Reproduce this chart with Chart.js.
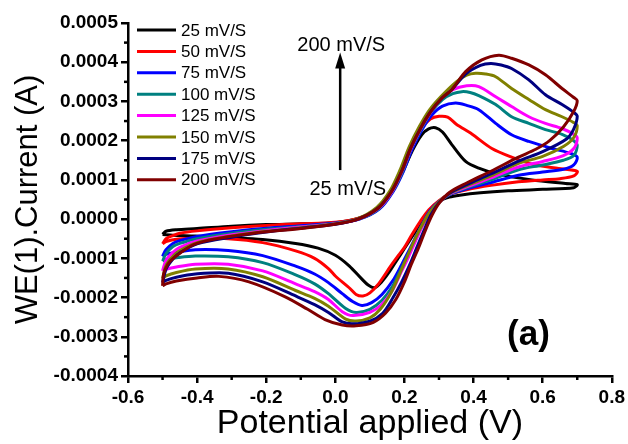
<!DOCTYPE html>
<html>
<head>
<meta charset="utf-8">
<title>Cyclic voltammograms</title>
<script src="https://cdn.jsdelivr.net/npm/chart.js@4.4.1/dist/chart.umd.min.js"></script>
<style>
    html, body { margin: 0; padding: 0; background: #fff; }
    #cv { display: block; }
</style>
</head>
<body>
<canvas id="cv" width="628" height="444"></canvas>
<script>
// Scan rates shown in the legend
const scanRates = ['25 mV/S', '50 mV/S', '75 mV/S', '100 mV/S', '125 mV/S', '150 mV/S', '175 mV/S', '200 mV/S'];
const lineColors = ['#000000', '#ff0000', '#0000ff', '#008080', '#ff00ff', '#808000', '#000080', '#800000'];

// Axis ticks
const xTicks = [-0.6, -0.4, -0.2, 0.0, 0.2, 0.4, 0.6, 0.8];
const yTicks = [-0.0004, -0.0003, -0.0002, -0.0001, 0.0000, 0.0001, 0.0002, 0.0003, 0.0004, 0.0005];

// [potential (V), current (A)]: forward sweep -0.5 -> 0.7 V, then back
const cv25 = [
    [-0.5, -0.39e-4], [-0.49, -0.31e-4], [-0.46, -0.27e-4], [-0.4, -0.24e-4], [-0.3, -0.18e-4], [-0.2, -0.14e-4],
    [-0.1, -0.12e-4], [0, -0.09e-4], [0.07, 0.03e-4], [0.127, 0.28e-4], [0.166, 0.72e-4], [0.196, 1.22e-4],
    [0.223, 1.75e-4], [0.25, 2.15e-4], [0.27, 2.3e-4], [0.29, 2.33e-4], [0.31, 2.22e-4], [0.337, 1.9e-4],
    [0.377, 1.47e-4], [0.415, 1.3e-4], [0.473, 1.14e-4], [0.569, 1.0e-4], [0.666, 0.91e-4], [0.7, 0.88e-4],
    [0.69, 0.8e-4], [0.6, 0.76e-4], [0.5, 0.72e-4], [0.42, 0.67e-4], [0.36, 0.61e-4], [0.33, 0.56e-4],
    [0.3, 0.45e-4], [0.272, 0.22e-4], [0.248, -0.08e-4], [0.222, -0.45e-4], [0.2, -0.75e-4], [0.18, -1.02e-4],
    [0.155, -1.36e-4], [0.132, -1.62e-4], [0.113, -1.75e-4], [0.095, -1.68e-4], [0.077, -1.53e-4], [0.04, -1.19e-4],
    [0.0, -0.92e-4], [-0.05, -0.74e-4], [-0.115, -0.62e-4], [-0.21, -0.52e-4], [-0.31, -0.47e-4], [-0.405, -0.43e-4],
    [-0.47, -0.41e-4], [-0.5, -0.39e-4]
];
const cv50 = [
    [-0.5, -0.63e-4], [-0.49, -0.5e-4], [-0.47, -0.42e-4], [-0.45, -0.36e-4], [-0.4, -0.3e-4], [-0.3, -0.22e-4],
    [-0.2, -0.16e-4], [-0.1, -0.12e-4], [0, -0.08e-4], [0.07, 0.03e-4], [0.126, 0.28e-4], [0.164, 0.71e-4],
    [0.194, 1.22e-4], [0.221, 1.8e-4], [0.249, 2.3e-4], [0.275, 2.55e-4], [0.3, 2.62e-4], [0.325, 2.6e-4],
    [0.35, 2.42e-4], [0.395, 2.17e-4], [0.453, 1.8e-4], [0.51, 1.58e-4], [0.57, 1.4e-4], [0.646, 1.29e-4],
    [0.7, 1.22e-4],
    [0.69, 1.1e-4], [0.65, 1.03e-4], [0.6, 1.0e-4], [0.53, 0.95e-4], [0.45, 0.86e-4], [0.38, 0.75e-4],
    [0.33, 0.63e-4], [0.3, 0.47e-4], [0.27, 0.23e-4], [0.245, -0.07e-4], [0.22, -0.42e-4], [0.2, -0.72e-4],
    [0.183, -0.92e-4], [0.16, -1.2e-4], [0.125, -1.65e-4], [0.1, -1.88e-4], [0.08, -1.96e-4], [0.06, -1.92e-4],
    [0.04, -1.75e-4], [0.0, -1.45e-4], [-0.02, -1.26e-4], [-0.06, -1.0e-4], [-0.115, -0.81e-4], [-0.21, -0.6e-4],
    [-0.31, -0.5e-4], [-0.405, -0.49e-4], [-0.455, -0.51e-4], [-0.49, -0.57e-4], [-0.5, -0.63e-4]
];
const cv75 = [
    [-0.5, -0.95e-4], [-0.49, -0.78e-4], [-0.47, -0.62e-4], [-0.45, -0.55e-4], [-0.4, -0.44e-4], [-0.3, -0.32e-4],
    [-0.2, -0.23e-4], [-0.1, -0.17e-4], [0, -0.1e-4], [0.07, 0.0], [0.128, 0.26e-4], [0.167, 0.7e-4],
    [0.196, 1.2e-4], [0.222, 1.78e-4], [0.252, 2.3e-4], [0.28, 2.66e-4], [0.31, 2.88e-4], [0.348, 2.96e-4],
    [0.38, 2.9e-4], [0.415, 2.79e-4], [0.464, 2.44e-4], [0.51, 2.15e-4], [0.56, 1.98e-4], [0.627, 1.8e-4],
    [0.68, 1.68e-4], [0.7, 1.58e-4],
    [0.69, 1.38e-4], [0.66, 1.27e-4], [0.6, 1.2e-4], [0.53, 1.12e-4], [0.45, 0.93e-4], [0.38, 0.77e-4],
    [0.33, 0.62e-4], [0.3, 0.45e-4], [0.273, 0.2e-4], [0.252, -0.12e-4], [0.232, -0.47e-4], [0.212, -0.82e-4],
    [0.192, -1.16e-4], [0.167, -1.56e-4], [0.135, -1.92e-4], [0.105, -2.13e-4], [0.077, -2.2e-4], [0.05, -2.1e-4],
    [0.02, -1.9e-4], [-0.02, -1.62e-4], [-0.06, -1.4e-4], [-0.115, -1.2e-4], [-0.21, -0.93e-4], [-0.31, -0.8e-4],
    [-0.405, -0.78e-4], [-0.455, -0.84e-4], [-0.49, -0.9e-4], [-0.5, -0.95e-4]
];
const cv100 = [
    [-0.5, -1.07e-4], [-0.49, -0.88e-4], [-0.47, -0.7e-4], [-0.45, -0.62e-4], [-0.4, -0.5e-4], [-0.3, -0.36e-4],
    [-0.2, -0.26e-4], [-0.1, -0.19e-4], [0, -0.11e-4], [0.068, 0.0], [0.127, 0.27e-4], [0.165, 0.7e-4],
    [0.194, 1.2e-4], [0.22, 1.8e-4], [0.25, 2.32e-4], [0.278, 2.74e-4], [0.31, 3.05e-4], [0.34, 3.2e-4],
    [0.366, 3.25e-4], [0.39, 3.23e-4], [0.415, 3.15e-4], [0.464, 2.92e-4], [0.51, 2.61e-4], [0.56, 2.44e-4],
    [0.608, 2.28e-4], [0.656, 2.16e-4], [0.69, 2.0e-4], [0.7, 1.88e-4],
    [0.69, 1.62e-4], [0.66, 1.5e-4], [0.6, 1.38e-4], [0.53, 1.26e-4], [0.45, 1.0e-4], [0.38, 0.8e-4],
    [0.33, 0.63e-4], [0.3, 0.44e-4], [0.273, 0.18e-4], [0.252, -0.15e-4], [0.232, -0.52e-4], [0.212, -0.9e-4],
    [0.19, -1.28e-4], [0.165, -1.72e-4], [0.135, -2.07e-4], [0.1, -2.3e-4], [0.06, -2.38e-4], [0.03, -2.28e-4],
    [-0.02, -1.9e-4], [-0.06, -1.65e-4], [-0.115, -1.42e-4], [-0.21, -1.11e-4], [-0.31, -0.96e-4], [-0.405, -0.94e-4],
    [-0.455, -0.98e-4], [-0.49, -1.03e-4], [-0.5, -1.07e-4]
];
const cv125 = [
    [-0.5, -1.32e-4], [-0.49, -1.05e-4], [-0.47, -0.85e-4], [-0.45, -0.72e-4], [-0.4, -0.56e-4], [-0.3, -0.4e-4],
    [-0.2, -0.29e-4], [-0.1, -0.2e-4], [0, -0.12e-4], [0.067, 0.0], [0.126, 0.28e-4], [0.164, 0.7e-4],
    [0.193, 1.22e-4], [0.219, 1.8e-4], [0.248, 2.32e-4], [0.277, 2.74e-4], [0.308, 3.08e-4], [0.34, 3.3e-4],
    [0.38, 3.4e-4], [0.415, 3.38e-4], [0.464, 3.12e-4], [0.51, 2.87e-4], [0.56, 2.61e-4], [0.608, 2.44e-4],
    [0.656, 2.31e-4], [0.69, 2.16e-4], [0.7, 2.07e-4],
    [0.69, 1.8e-4], [0.66, 1.62e-4], [0.6, 1.47e-4], [0.53, 1.33e-4], [0.45, 1.05e-4], [0.38, 0.82e-4],
    [0.33, 0.64e-4], [0.3, 0.43e-4], [0.273, 0.16e-4], [0.252, -0.18e-4], [0.232, -0.56e-4], [0.212, -0.96e-4],
    [0.19, -1.36e-4], [0.165, -1.82e-4], [0.135, -2.17e-4], [0.1, -2.38e-4], [0.05, -2.46e-4], [0.02, -2.36e-4],
    [-0.02, -2.05e-4], [-0.06, -1.85e-4], [-0.115, -1.65e-4], [-0.21, -1.32e-4], [-0.31, -1.15e-4], [-0.405, -1.15e-4],
    [-0.46, -1.22e-4], [-0.49, -1.28e-4], [-0.5, -1.32e-4]
];
const cv150 = [
    [-0.5, -1.52e-4], [-0.49, -1.18e-4], [-0.47, -0.95e-4], [-0.45, -0.8e-4], [-0.4, -0.6e-4], [-0.3, -0.43e-4],
    [-0.2, -0.31e-4], [-0.1, -0.22e-4], [0, -0.12e-4], [0.062, 0.0], [0.12, 0.3e-4], [0.158, 0.72e-4],
    [0.187, 1.25e-4], [0.214, 1.85e-4], [0.243, 2.36e-4], [0.272, 2.78e-4], [0.305, 3.12e-4], [0.35, 3.5e-4],
    [0.38, 3.67e-4], [0.406, 3.72e-4], [0.435, 3.7e-4], [0.464, 3.63e-4], [0.51, 3.33e-4], [0.56, 3.05e-4],
    [0.608, 2.79e-4], [0.656, 2.61e-4], [0.69, 2.46e-4], [0.7, 2.38e-4],
    [0.69, 2.08e-4], [0.66, 1.85e-4], [0.6, 1.6e-4], [0.53, 1.42e-4], [0.45, 1.1e-4], [0.38, 0.85e-4],
    [0.33, 0.65e-4], [0.3, 0.44e-4], [0.272, 0.16e-4], [0.25, -0.17e-4], [0.228, -0.56e-4], [0.207, -0.97e-4],
    [0.186, -1.4e-4], [0.16, -1.9e-4], [0.13, -2.3e-4], [0.1, -2.52e-4], [0.06, -2.6e-4], [0.03, -2.55e-4],
    [-0.02, -2.22e-4], [-0.06, -2.02e-4], [-0.115, -1.82e-4], [-0.21, -1.47e-4], [-0.31, -1.27e-4], [-0.405, -1.27e-4],
    [-0.46, -1.36e-4], [-0.49, -1.45e-4], [-0.5, -1.52e-4]
];
const cv175 = [
    [-0.5, -1.62e-4], [-0.49, -1.28e-4], [-0.47, -1.02e-4], [-0.45, -0.86e-4], [-0.4, -0.63e-4], [-0.3, -0.46e-4],
    [-0.2, -0.33e-4], [-0.1, -0.23e-4], [0, -0.13e-4], [0.066, 0.0], [0.125, 0.29e-4], [0.163, 0.71e-4],
    [0.192, 1.22e-4], [0.218, 1.81e-4], [0.247, 2.32e-4], [0.276, 2.74e-4], [0.308, 3.08e-4], [0.337, 3.3e-4],
    [0.377, 3.7e-4], [0.42, 3.92e-4], [0.45, 3.97e-4], [0.48, 3.93e-4], [0.51, 3.84e-4], [0.56, 3.55e-4],
    [0.608, 3.17e-4], [0.656, 2.92e-4], [0.69, 2.72e-4], [0.7, 2.62e-4],
    [0.69, 2.3e-4], [0.67, 2.05e-4], [0.6, 1.72e-4], [0.53, 1.48e-4], [0.45, 1.15e-4], [0.38, 0.88e-4],
    [0.33, 0.66e-4], [0.3, 0.42e-4], [0.276, 0.1e-4], [0.256, -0.3e-4], [0.236, -0.72e-4], [0.216, -1.15e-4],
    [0.192, -1.6e-4], [0.167, -2.0e-4], [0.137, -2.4e-4], [0.1, -2.6e-4], [0.05, -2.67e-4], [0.02, -2.62e-4],
    [-0.02, -2.38e-4], [-0.06, -2.18e-4], [-0.115, -1.96e-4], [-0.21, -1.6e-4], [-0.31, -1.38e-4], [-0.405, -1.4e-4],
    [-0.46, -1.48e-4], [-0.49, -1.56e-4], [-0.5, -1.62e-4]
];
const cv200 = [
    [-0.5, -1.7e-4], [-0.497, -1.4e-4], [-0.485, -1.15e-4], [-0.468, -0.99e-4], [-0.41, -0.65e-4], [-0.33, -0.48e-4],
    [-0.236, -0.36e-4], [-0.1, -0.24e-4], [0, -0.13e-4], [0.066, 0.0], [0.125, 0.29e-4], [0.163, 0.71e-4],
    [0.192, 1.22e-4], [0.218, 1.81e-4], [0.247, 2.32e-4], [0.276, 2.74e-4], [0.308, 3.08e-4], [0.337, 3.3e-4],
    [0.377, 3.76e-4], [0.424, 4.06e-4], [0.473, 4.18e-4], [0.51, 4.1e-4], [0.56, 3.93e-4], [0.608, 3.68e-4],
    [0.656, 3.33e-4], [0.69, 3.1e-4], [0.7, 3.02e-4],
    [0.69, 2.75e-4], [0.66, 2.35e-4], [0.62, 2.0e-4], [0.58, 1.78e-4], [0.53, 1.58e-4], [0.45, 1.22e-4],
    [0.38, 0.92e-4], [0.33, 0.68e-4], [0.3, 0.4e-4], [0.28, 0.1e-4], [0.26, -0.3e-4], [0.24, -0.75e-4],
    [0.22, -1.15e-4], [0.2, -1.6e-4], [0.175, -2.05e-4], [0.145, -2.4e-4], [0.11, -2.63e-4], [0.06, -2.72e-4],
    [0.02, -2.7e-4], [-0.03, -2.56e-4], [-0.08, -2.3e-4], [-0.145, -1.98e-4], [-0.25, -1.6e-4], [-0.337, -1.46e-4],
    [-0.4, -1.5e-4], [-0.46, -1.58e-4], [-0.49, -1.65e-4], [-0.5, -1.7e-4]
];

const loops = [cv25, cv50, cv75, cv100, cv125, cv150, cv175, cv200];

const FONT = "'Liberation Sans', Arial, sans-serif";

// Minor ticks, legend box and the text notes on the plot
const decorPlugin = {
    id: 'decor',
    afterDraw(chart) {
        const ctx = chart.ctx;
        const area = chart.chartArea;
        const xs = chart.scales.x;
        const ys = chart.scales.y;

        ctx.save();
        ctx.strokeStyle = '#000';
        ctx.lineWidth = 2.5;

        // minor ticks halfway between the labelled ones
        for (let i = 0; i < xTicks.length - 1; i++) {
            const px = xs.getPixelForValue((xTicks[i] + xTicks[i + 1]) / 2);
            ctx.beginPath();
            ctx.moveTo(px, area.bottom);
            ctx.lineTo(px, area.bottom + 4);
            ctx.stroke();
        }
        for (let i = 0; i < yTicks.length - 1; i++) {
            const py = ys.getPixelForValue((yTicks[i] + yTicks[i + 1]) / 2);
            ctx.beginPath();
            ctx.moveTo(area.left, py);
            ctx.lineTo(area.left - 4, py);
            ctx.stroke();
        }

        // legend
        ctx.font = '17px ' + FONT;
        ctx.textBaseline = 'middle';
        ctx.textAlign = 'left';
        ctx.fillStyle = '#000';
        ctx.lineWidth = 3;
        scanRates.forEach((label, i) => {
            const y = area.top + 7 + i * 21.4;
            ctx.strokeStyle = lineColors[i];
            ctx.beginPath();
            ctx.moveTo(area.left + 9, y);
            ctx.lineTo(area.left + 48, y);
            ctx.stroke();
            ctx.fillText(label, area.left + 53, y + 1);
        });

        // arrow from the slowest to the fastest scan
        const ax = xs.getPixelForValue(0.014);
        const aTop = ys.getPixelForValue(4.25e-4);
        const aBottom = ys.getPixelForValue(1.25e-4);
        ctx.strokeStyle = '#000';
        ctx.lineWidth = 2.5;
        ctx.beginPath();
        ctx.moveTo(ax, aBottom);
        ctx.lineTo(ax, aTop + 12);
        ctx.stroke();
        ctx.beginPath();
        ctx.moveTo(ax, aTop);
        ctx.lineTo(ax - 5, aTop + 16);
        ctx.lineTo(ax + 5, aTop + 16);
        ctx.closePath();
        ctx.fill();

        ctx.font = '20px ' + FONT;
        ctx.textBaseline = 'alphabetic';
        ctx.fillText('200 mV/S', xs.getPixelForValue(-0.11), ys.getPixelForValue(4.29e-4));
        ctx.fillText('25 mV/S', xs.getPixelForValue(-0.075), ys.getPixelForValue(0.61e-4));

        ctx.font = 'bold 35px ' + FONT;
        ctx.fillText('(a)', xs.getPixelForValue(0.497), ys.getPixelForValue(-3.22e-4));
        ctx.restore();
    }
};

const datasets = loops.map((loop, i) => ({
    label: scanRates[i],
    data: loop.map(p => ({ x: p[0], y: p[1] })),
    showLine: true,
    borderColor: lineColors[i],
    backgroundColor: lineColors[i],
    borderWidth: 3,
    pointRadius: 0,
    tension: 0.3,
    fill: false,
    order: loops.length - i
}));

const axisGrid = {
    drawOnChartArea: false,
    drawTicks: true,
    tickLength: 7,
    lineWidth: 2.5,
    color: '#000'
};

new Chart(document.getElementById('cv'), {
    type: 'scatter',
    data: { datasets },
    options: {
        responsive: false,
        animation: false,
        devicePixelRatio: 1,
        layout: { padding: { top: 23, right: 15, left: 0, bottom: 0 } },
        plugins: {
            legend: { display: false },
            tooltip: { enabled: false }
        },
        scales: {
            x: {
                type: 'linear',
                min: xTicks[0],
                max: xTicks[xTicks.length - 1],
                afterBuildTicks: s => { s.ticks = xTicks.map(v => ({ value: v })); },
                afterFit: s => { s.height = 68; },
                ticks: {
                    color: '#000',
                    padding: 3,
                    maxRotation: 0,
                    font: { family: FONT, size: 19, weight: 'bold' },
                    callback: v => Number(v).toFixed(1)
                },
                grid: axisGrid,
                border: { display: true, color: '#000', width: 2.5 },
                title: {
                    display: true,
                    text: 'Potential applied (V)',
                    color: '#000',
                    font: { family: FONT, size: 34 },
                    padding: { top: 0, bottom: 0 }
                }
            },
            y: {
                type: 'linear',
                min: yTicks[0],
                max: yTicks[yTicks.length - 1],
                afterBuildTicks: s => { s.ticks = yTicks.map(v => ({ value: v })); },
                afterFit: s => { s.width = 128; },
                ticks: {
                    color: '#000',
                    padding: 3,
                    font: { family: FONT, size: 19, weight: 'bold' },
                    callback: v => Math.abs(v) < 1e-9 ? '0.0000' : Number(v).toFixed(4)
                },
                grid: axisGrid,
                border: { display: true, color: '#000', width: 2.5 },
                title: {
                    display: true,
                    text: 'WE(1).Current (A)',
                    color: '#000',
                    font: { family: FONT, size: 31 },
                    padding: { top: 10, bottom: 0 }
                }
            }
        }
    },
    plugins: [decorPlugin]
});
</script>
</body>
</html>
